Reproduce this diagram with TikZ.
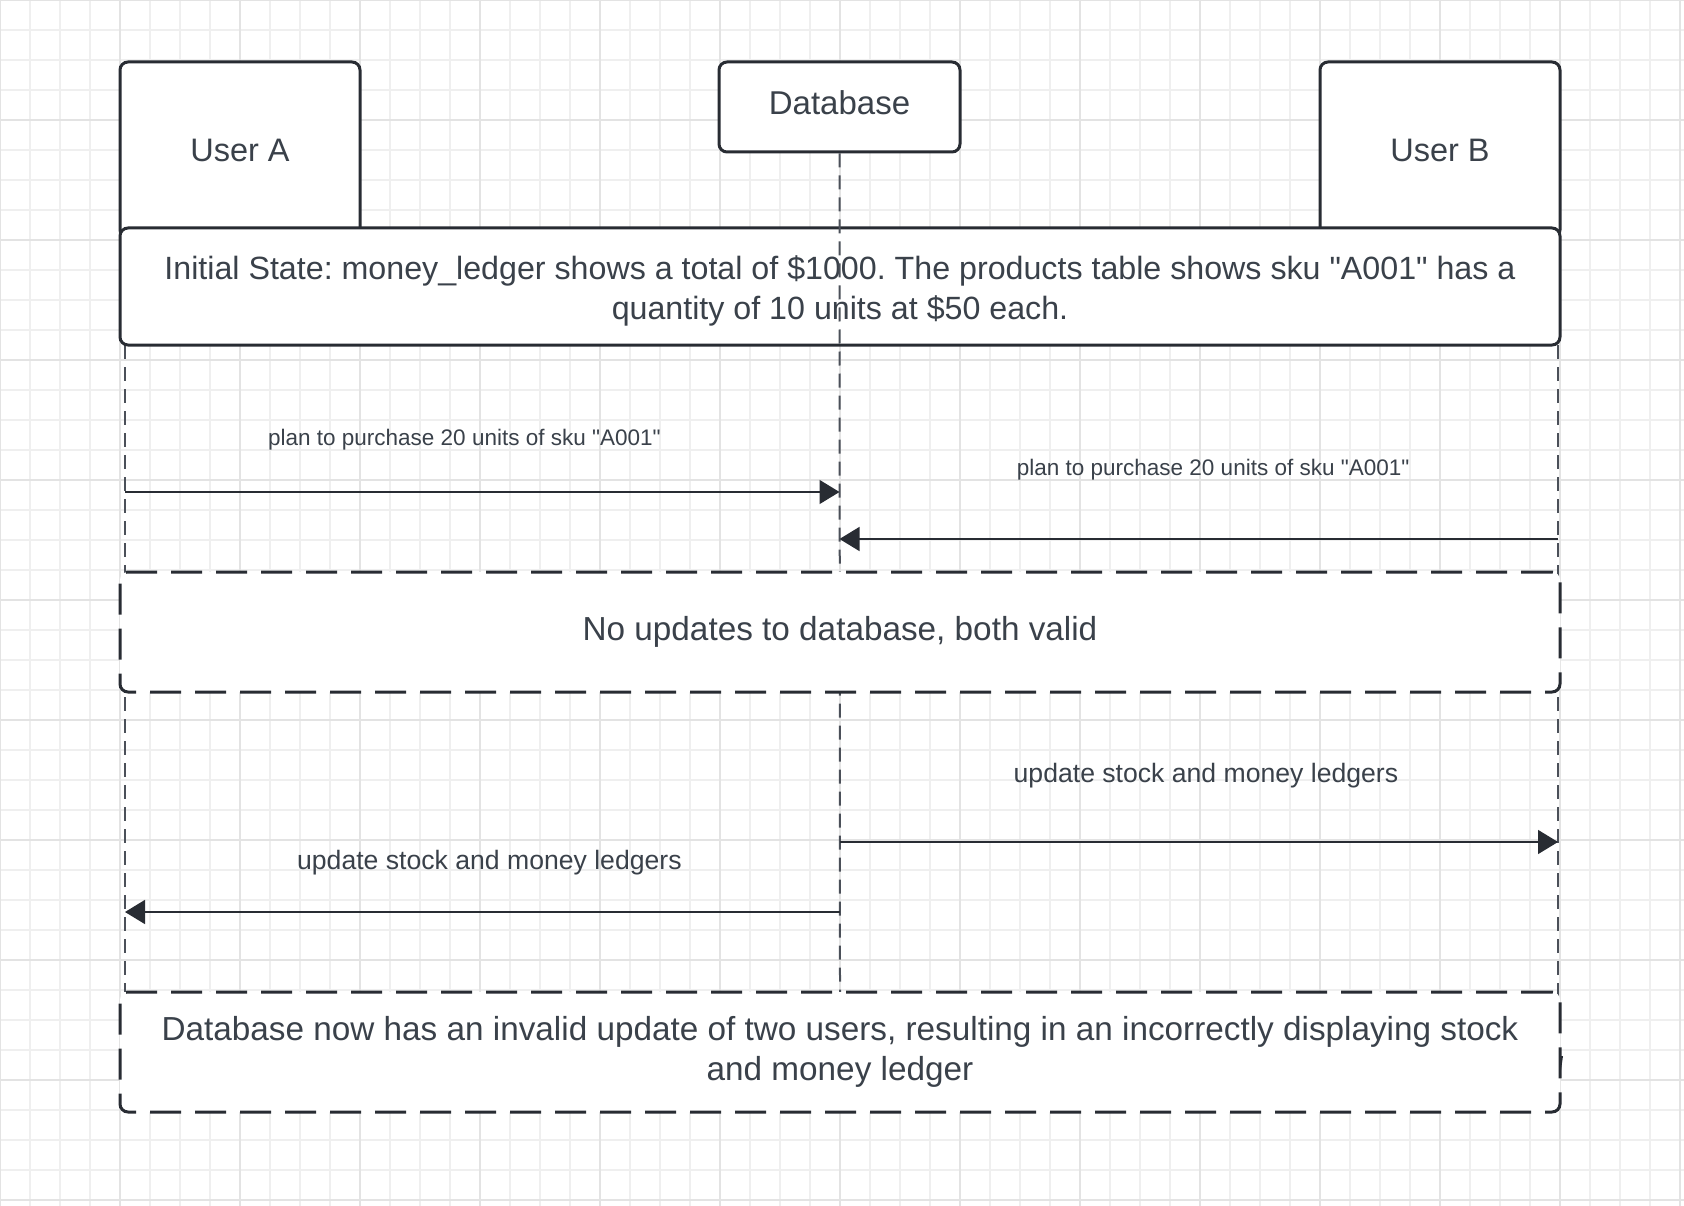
\documentclass[tikz,border=0pt]{standalone}
\usepackage{fontspec}
\setmainfont{Liberation Sans}[Ligatures=TeXOff]
\frenchspacing
\usetikzlibrary{arrows.meta,positioning}
\definecolor{inkline}{HTML}{282C33}
\definecolor{inktext}{HTML}{3A414A}
\definecolor{inklife}{HTML}{4B5059}
\definecolor{gridminor}{HTML}{EFEFEF}
\definecolor{gridmajor}{HTML}{E3E3E3}
\begin{document}
\begin{tikzpicture}[x=1pt, y=-1pt,
	box/.style={draw=inkline, line width=3pt, rounded corners=8pt, fill=white, text=inktext, font=\fontsize{32.5}{40}\selectfont, align=center, inner sep=0pt},
	boxtext/.style={text=inktext, font=\fontsize{32.2}{40}\selectfont, align=center, inner sep=0pt},
	note/.style={box, minimum width=1440pt, minimum height=117pt},
	notedash/.style={note, minimum height=120pt, dash pattern=on 31pt off 14pt, font=\fontsize{33.3}{40}\selectfont},
	lifeline/.style={draw=inklife, line width=2pt, dash pattern=on 14pt off 8pt},
	msg/.style={draw=inkline, line width=1.5pt, -{Triangle[length=20pt,width=24pt]}},
	msglabel/.style={text=inktext, inner sep=0pt, font=\fontsize{22.5}{27}\selectfont},
	updlabel/.style={msglabel, font=\fontsize{26.6}{32}\selectfont}]
	\fill[white] (0,0) rectangle (1684,1206);
	\useasboundingbox (0,0) rectangle (1684,1206);
	\foreach \gx in {0,30,...,1680} \draw[gridminor, line width=1.5pt] (\gx,0) -- (\gx,1206);
	\foreach \gy in {0,30,...,1200} \draw[gridminor, line width=1.5pt] (0,\gy) -- (1684,\gy);
	\foreach \gx in {0,120,...,1680} \draw[gridmajor, line width=1.5pt] (\gx,0) -- (\gx,1206);
	\foreach \gy in {0,120,...,1200} \draw[gridmajor, line width=1.5pt] (0,\gy) -- (1684,\gy);
	\coordinate (aTop) at (125,345);
	\coordinate (aEnd) at (125,992);
	\coordinate (bTop) at (1558,345);
	\coordinate (bEnd) at (1558,1063);
	\coordinate (dbEnd) at (840,992);
	\coordinate (m1) at (0,492);
	\coordinate (m2) at (0,539);
	\coordinate (m3) at (0,842);
	\coordinate (m4) at (0,912);
	\draw[lifeline] (aTop) -- (aEnd);
	\draw[lifeline] (bTop) -- (bEnd);
	\node[box, minimum width=240pt, minimum height=176pt] (userA) at (240,150) {User A};
	\node[box, minimum width=240pt, minimum height=176pt] (userB) at (1440,150) {User B};
	\node[box, minimum width=241pt, minimum height=90pt, text depth=8pt, font=\fontsize{33}{40}\selectfont] (db) at (839.5,107) {Database};
	\node[note] (initial) at (840,286.5) {};
	\node[boxtext] (initialText) at ([yshift=-4pt]initial.center) {Initial State: money\_ledger shows a total of \$1000. The products table shows sku "A001" has a\\quantity of 10 units at \$50 each.};
	\draw[lifeline] (db.south) -- (dbEnd);
	\draw[msg] (aTop |- m1) -- node[msglabel, above=41pt, pos=0.475]{plan to purchase 20 units of sku "A001"} (db.south |- m1);
	\draw[msg] (bTop |- m2) -- node[msglabel, above=58pt, pos=0.48]{plan to purchase 20 units of sku "A001"} (db.south |- m2);
	\draw[msg] (db.south |- m3) -- node[updlabel, above=53pt, pos=0.51]{update stock and money ledgers} (bTop |- m3);
	\draw[msg] (db.south |- m4) -- node[updlabel, above=36pt, pos=0.49]{update stock and money ledgers} (aTop |- m4);
	\node[notedash] (noupd) at (840,632) {No updates to database, both valid};
	\node[notedash] (final) at (840,1052) {Database now has an invalid update of two users, resulting in an incorrectly displaying stock\\and money ledger};
	\fill[inkline] (1559,1056) -- (1563,1056) -- (1561,1070) -- cycle;
\end{tikzpicture}
\end{document}
